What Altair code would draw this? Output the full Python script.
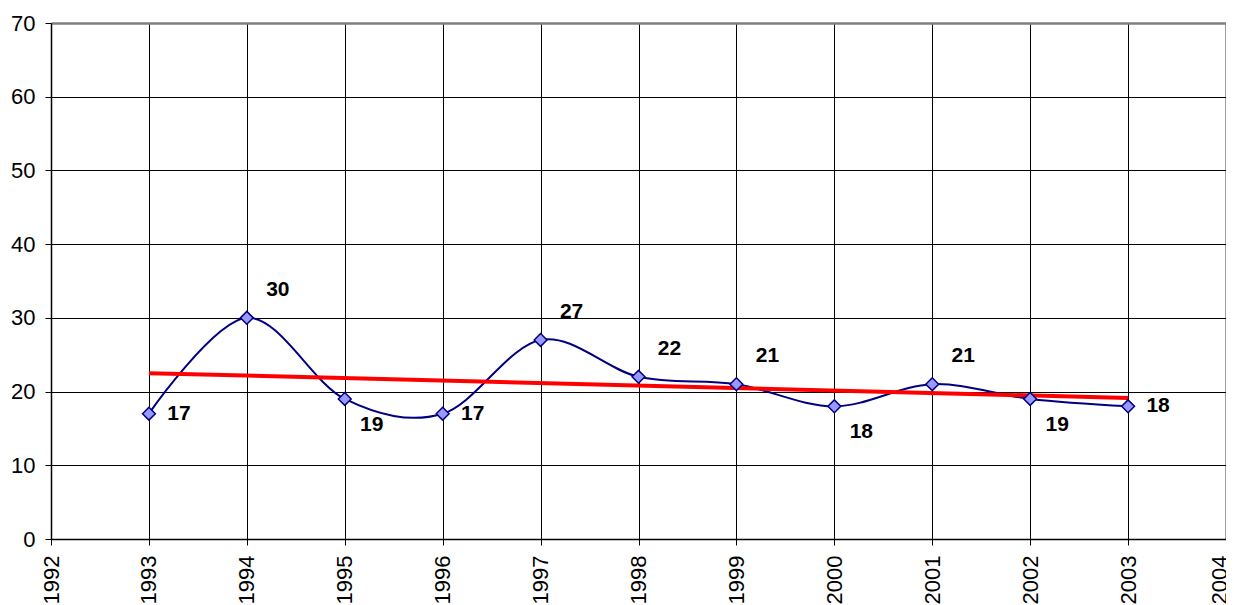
import altair as alt
import pandas as pd

years = [1993, 1994, 1995, 1996, 1997, 1998, 1999, 2000, 2001, 2002, 2003]
values = [17, 30, 19, 17, 27, 22, 21, 18, 21, 19, 18]
label_side = ["right", "above", "below", "right", "above", "above",
              "above", "below", "above", "below", "right"]
x_ticks = list(range(1992, 2005))
y_ticks = [0, 10, 20, 30, 40, 50, 60, 70]

df = pd.DataFrame({"year": years, "value": values, "side": label_side})

FONT = "Liberation Sans"

x_enc = alt.X(
    "year:Q",
    scale=alt.Scale(domain=[1992, 2004], nice=False, zero=False),
    axis=alt.Axis(
        values=x_ticks, format="d", labelAngle=270, title=None,
        grid=True,
        gridColor={"condition": {"test": "datum.value === 2004", "value": "#808080"}, "value": "#000000"},
        gridWidth={"condition": {"test": "datum.value === 2004", "value": 2.5}, "value": 1},
        labelOffset={"condition": {"test": "datum.value === 2004", "value": -7}, "value": 0},
        tickSize=6, tickColor="#000000", labelPadding=10,
        domainColor="#000000", domainWidth=1.5,
        labelFontSize=22, labelColor="#000000", labelFont=FONT,
        labelOverlap=False, labelBound=False, labelFlush=False,
    ),
)
y_enc = alt.Y(
    "value:Q",
    scale=alt.Scale(domain=[0, 70], nice=False),
    axis=alt.Axis(
        values=y_ticks, title=None, grid=True,
        gridColor={"condition": {"test": "datum.value === 70", "value": "#808080"}, "value": "#000000"},
        gridWidth={"condition": {"test": "datum.value === 70", "value": 2.5}, "value": 1},
        tickSize=6, tickColor="#000000", labelPadding=10,
        domainColor="#000000", domainWidth=1.5,
        labelFontSize=22, labelColor="#000000", labelFont=FONT,
    ),
)

base = alt.Chart(df)

line = base.mark_line(color="#000080", strokeWidth=2, interpolate="cardinal").encode(x=x_enc, y=y_enc)

trend = base.transform_regression("year", "value").mark_line(
    color="#FF0000", strokeWidth=4
).encode(x="year:Q", y="value:Q")

points = base.mark_point(
    shape="diamond", size=165, filled=True, fill="#9999FF", stroke="#000080",
    strokeWidth=1.5, opacity=1
).encode(x="year:Q", y="value:Q")

def labels(side, dx, dy):
    return base.transform_filter(alt.datum.side == side).mark_text(
        font=FONT, fontSize=21, fontWeight="bold", color="#000000",
        align="center", baseline="middle", dx=dx, dy=dy
    ).encode(x="year:Q", y="value:Q", text="value:Q")

chart = alt.layer(
    line, trend, points,
    labels("right", 30, 0), labels("above", 31, -28), labels("below", 27, 26),
).properties(
    width=1175, height=516,
    autosize=alt.AutoSizeParams(type="none"),
    padding={"left": 43, "top": 15, "right": 0, "bottom": 66},
).configure_view(stroke=None).configure(font=FONT)

chart.save("out.html", embed_options={"renderer": "svg", "actions": False})
